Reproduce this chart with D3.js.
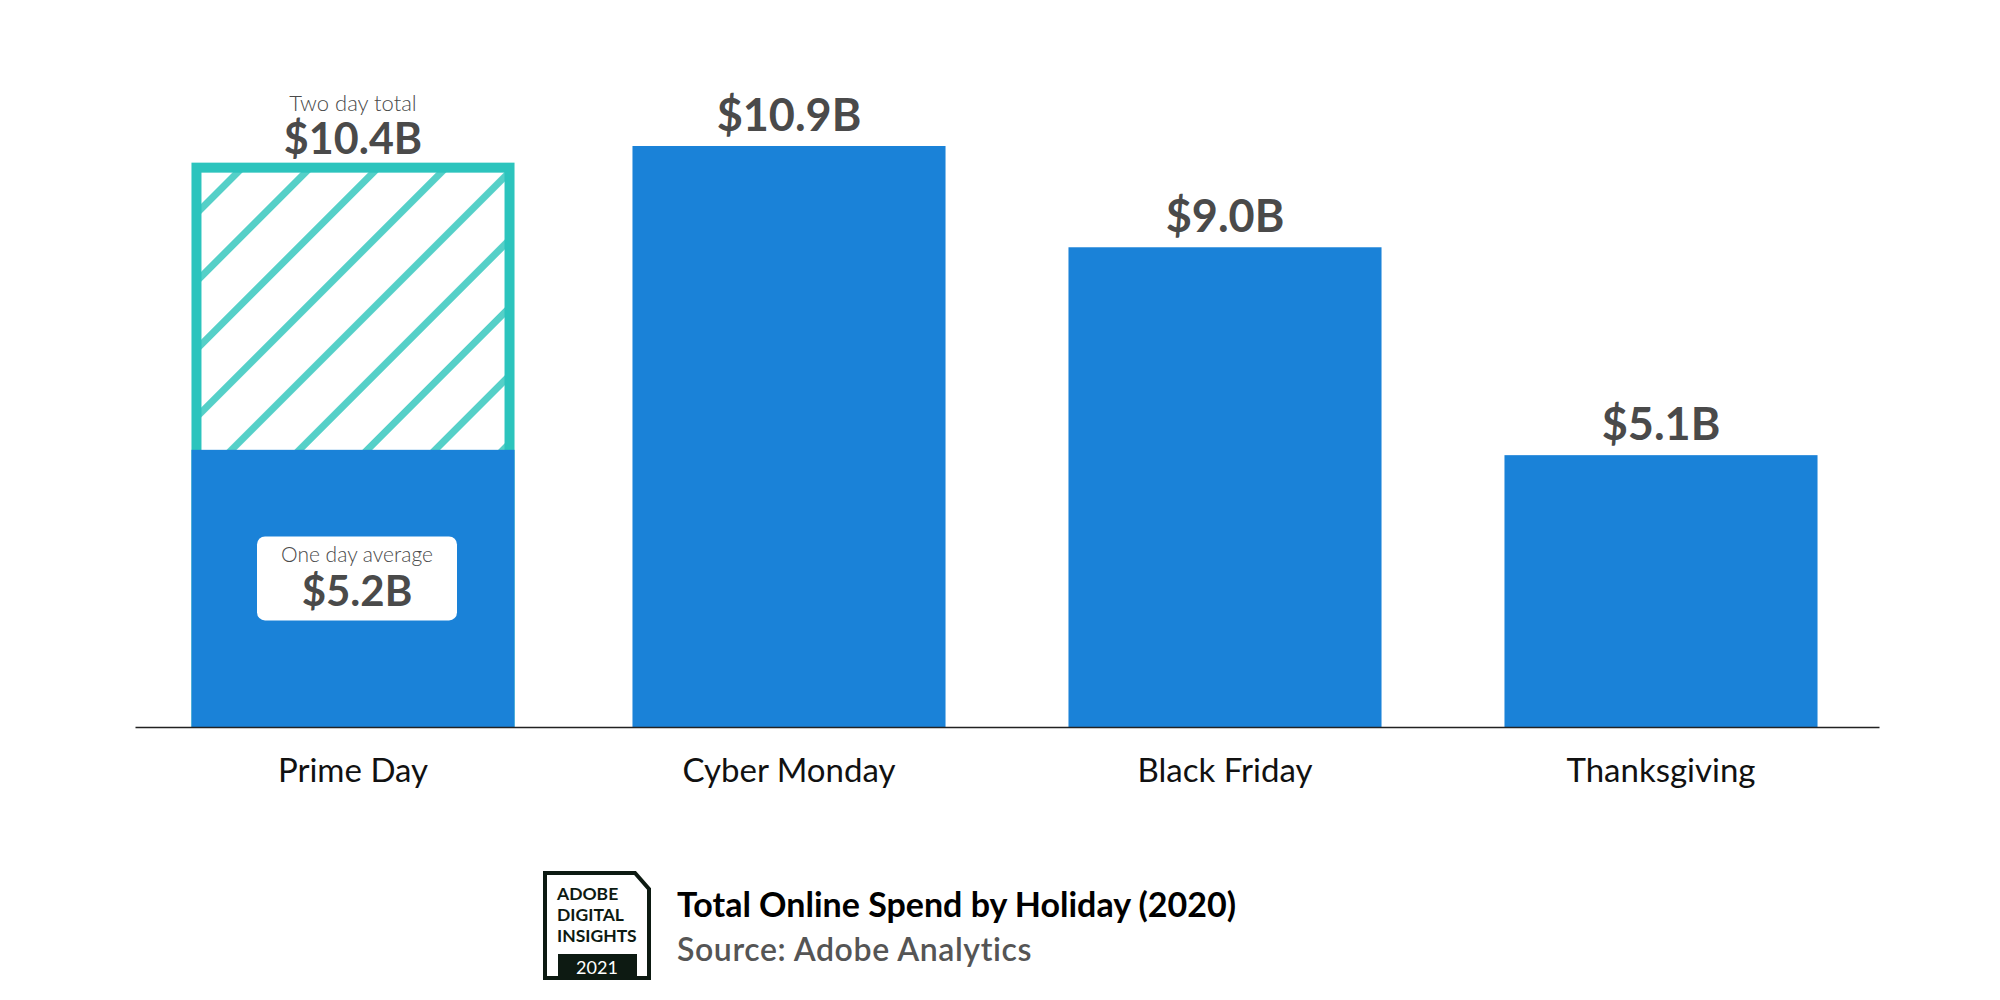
<!DOCTYPE html>
<html>
<head>
<meta charset="utf-8">
<script src="https://cdn.jsdelivr.net/npm/d3@7"></script>
<style>
  body { margin: 0; background: #fff; }
  text { font-family: Lato, 'Open Sans', sans-serif; }
</style>
</head>
<body>
<div id="chart-area"></div>
<script>
const canvas_width = 2000;
const canvas_height = 1000;

// data
const categories = ['Prime Day', 'Cyber Monday', 'Black Friday', 'Thanksgiving'];
const spend = [5.2, 10.9, 9.0, 5.1];          // billions, single day
const primeDayTotal = 10.4;                   // two day total
const valueLabels = ['$5.2B', '$10.9B', '$9.0B', '$5.1B'];
const totalLabel = '$10.4B';

const blue = '#1a82d8';
const teal = '#2cc4bd';
const stripe = '#55d0c8';
const grey = '#4a4a4a';

const baseY = 727;

let canvas = d3.select('#chart-area').append('svg')
    .attr('width', canvas_width)
    .attr('height', canvas_height);

canvas.append('rect').attr('width', canvas_width).attr('height', canvas_height).attr('fill', '#fff');

let defs = canvas.append('defs');
let pattern = defs.append('pattern')
    .attr('id', 'hatch')
    .attr('patternUnits', 'userSpaceOnUse')
    .attr('width', 48)
    .attr('height', 48)
    .attr('patternTransform', 'translate(233, 172) rotate(45)');
pattern.append('rect').attr('width', 48).attr('height', 48).attr('fill', '#fff');
pattern.append('rect').attr('x', 0).attr('y', 0).attr('width', 7).attr('height', 48).attr('fill', stripe);

let x = d3.scaleBand()
    .domain(categories)
    .range([135, 1879])
    .paddingInner(0.282)
    .paddingOuter(0.141);

let y = d3.scaleLinear()
    .domain([0, 10.9])
    .range([baseY, 146]);

let group = canvas.append('g');

// prime day two-day total frame
const pd = categories[0];
const pdX = x(pd) - 5;
const pdW = x.bandwidth() + 10;
group.append('rect')
    .attr('x', pdX + 5)
    .attr('y', y(primeDayTotal) - 5)
    .attr('width', pdW - 10)
    .attr('height', y(0) - y(primeDayTotal))
    .attr('fill', 'url(#hatch)')
    .attr('stroke', teal)
    .attr('stroke-width', 10);

// bars
group.selectAll('rect.bar').data(categories)
    .enter().append('rect')
    .attr('class', 'bar')
    .attr('x', (d, i) => i === 0 ? pdX : x(d))
    .attr('y', (d, i) => y(spend[i]))
    .attr('width', (d, i) => i === 0 ? pdW : x.bandwidth())
    .attr('height', (d, i) => y(0) - y(spend[i]))
    .attr('fill', blue);

// value labels (not prime day)
group.selectAll('text.value').data(categories.slice(1))
    .enter().append('text')
    .attr('class', 'value')
    .attr('x', (d) => x(d) + x.bandwidth() / 2)
    .attr('y', (d, i) => y(spend[i + 1]) - 15)
    .attr('text-anchor', 'middle')
    .attr('font-size', '45px')
    .attr('font-weight', 700)
    .attr('fill', grey)
    .text((d, i) => valueLabels[i + 1]);

// prime day labels
const pdCx = x(pd) + x.bandwidth() / 2;
group.append('text')
    .attr('x', pdCx).attr('y', y(primeDayTotal) - 62)
    .attr('text-anchor', 'middle')
    .attr('font-size', '22px')
    .attr('font-weight', 300)
    .attr('fill', grey)
    .text('Two day total');
group.append('text')
    .attr('x', pdCx).attr('y', y(primeDayTotal) - 19)
    .attr('text-anchor', 'middle')
    .attr('font-size', '43px')
    .attr('font-weight', 700)
    .attr('fill', grey)
    .text(totalLabel);

const boxTop = (y(spend[0]) + y(0)) / 2 - 52;
group.append('rect')
    .attr('x', pdCx - 96).attr('y', boxTop)
    .attr('width', 200).attr('height', 84)
    .attr('rx', 8)
    .attr('fill', '#fff');
group.append('text')
    .attr('x', pdCx + 4).attr('y', boxTop + 26)
    .attr('text-anchor', 'middle')
    .attr('font-size', '21px')
    .attr('font-weight', 300)
    .attr('fill', grey)
    .text('One day average');
group.append('text')
    .attr('x', pdCx + 4).attr('y', boxTop + 70)
    .attr('text-anchor', 'middle')
    .attr('font-size', '42px')
    .attr('font-weight', 700)
    .attr('fill', grey)
    .text(valueLabels[0]);

// bottom axis
let bottomAxis = d3.axisBottom(x).tickSize(0).tickPadding(0);
let axisG = group.append('g')
    .attr('class', 'bottom axis')
    .attr('transform', `translate(0, ${baseY})`)
    .call(bottomAxis);
axisG.select('.domain').attr('stroke', '#222').attr('stroke-width', 1.5);
axisG.selectAll('text')
    .attr('y', 55)
    .attr('dy', 0)
    .attr('font-family', 'Lato, sans-serif')
    .attr('font-size', '33px')
    .attr('fill', '#111');

// footer logo
let logo = canvas.append('g').attr('transform', 'translate(543, 871)');
logo.append('path')
    .attr('d', 'M2,2 H92 L106,18 V107 H2 Z')
    .attr('fill', '#fff')
    .attr('stroke', '#0d1a12')
    .attr('stroke-width', 4);
logo.append('rect')
    .attr('x', 15).attr('y', 83).attr('width', 79).attr('height', 26)
    .attr('fill', '#0d1a12');
['ADOBE', 'DIGITAL', 'INSIGHTS'].forEach((t, i) => {
    logo.append('text')
        .attr('x', 14).attr('y', 29 + i * 21)
        .attr('font-size', '17.5px')
        .attr('font-weight', 700)
        .attr('fill', '#0d1a12')
        .text(t);
});
logo.append('text')
    .attr('x', 54).attr('y', 103)
    .attr('text-anchor', 'middle')
    .attr('font-size', '18px')
    .attr('fill', '#fff')
    .text('2021');

canvas.append('text')
    .attr('x', 677).attr('y', 917)
    .attr('font-size', '34px')
    .attr('font-weight', 700)
    .attr('fill', '#000')
    .text('Total Online Spend by Holiday (2020)');
canvas.append('text')
    .attr('x', 677).attr('y', 961)
    .attr('font-size', '32px')
    .attr('font-weight', 600)
    .attr('letter-spacing', '0.6px')
    .attr('fill', '#555')
    .text('Source: Adobe Analytics');
</script>
</body>
</html>
